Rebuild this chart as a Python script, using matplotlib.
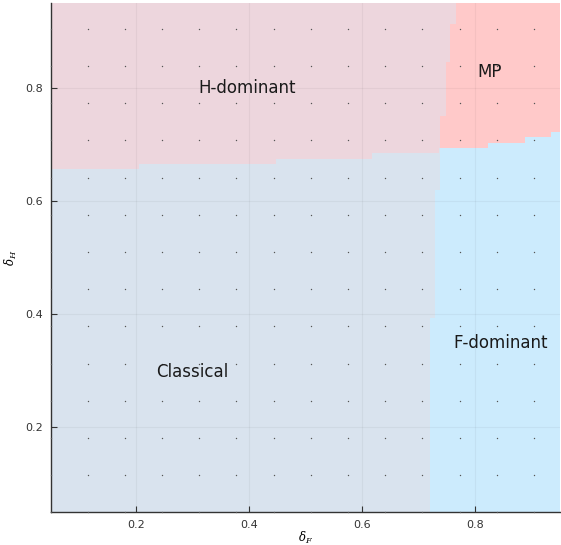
## phase diagram of the dominant regime over (delta_F, delta_H)
import numpy as np
import matplotlib
matplotlib.use('Agg')
import matplotlib.pyplot as plt
from matplotlib.colors import ListedColormap

plt.rcParams['mathtext.fontset'] = 'dejavuserif'

#define
x_min, x_max = 0.05, 0.95
y_min, y_max = 0.05, 0.95

# sampled parameter grid (shown as dots)
grid_vals = [0.05, 0.115, 0.181, 0.247, 0.312, 0.378, 0.444, 0.510,
             0.575, 0.641, 0.707, 0.773, 0.838, 0.904]

# upper/lower boundary: step starts along delta_F and level in delta_H
hb_x = [0.05, 0.2056, 0.4477, 0.6169, 0.7367, 0.8223, 0.8883, 0.935]
hb_y = [0.656, 0.665, 0.674, 0.684, 0.693, 0.702, 0.712, 0.722]

# left/right boundary: step starts along delta_H and level in delta_F
vb_y = [0.05, 0.3927, 0.6179, 0.7492, 0.8447, 0.9114]
vb_x = [0.7196, 0.7297, 0.7385, 0.7483, 0.7561, 0.7667]

regions = ['Classical', 'F-dominant', 'H-dominant', 'MP']
region_colors = ['#D9E3EE', '#CCEBFD', '#EDD6DD', '#FFC9C9']
label_pos = {'H-dominant': (0.397, 0.80), 'MP': (0.825, 0.828),
             'F-dominant': (0.845, 0.349), 'Classical': (0.300, 0.298)}

# region map on a fine raster
n = 1000
xs = np.linspace(x_min, x_max, n)
ys = np.linspace(y_min, y_max, n)
X, Y = np.meshgrid(xs, ys)
top = Y > np.array(hb_y)[np.searchsorted(hb_x, X, side='right') - 1]
right = X > np.array(vb_x)[np.searchsorted(vb_y, Y, side='right') - 1]
cat = top * 2 + right

fig = plt.figure(figsize=(5.61, 5.45), dpi=100)
ax = fig.add_axes([0.0909, 0.0606, 0.9091 - 0.002, 0.934])
ax.imshow(cat, origin='lower', extent=(x_min, x_max, y_min, y_max),
          cmap=ListedColormap(region_colors), vmin=-0.5, vmax=3.5,
          interpolation='nearest', aspect='auto', zorder=0)

gx, gy = np.meshgrid(grid_vals, grid_vals)
ax.scatter(gx.ravel(), gy.ravel(), s=1.0, color='#555555', linewidths=0,
           zorder=3, clip_on=False)

for name in regions:
    px, py = label_pos[name]
    ax.text(px, py, name, fontsize=12, ha='center', va='center', color='#1a1a1a', zorder=4)

ax.set_xlim(x_min, x_max)
ax.set_ylim(y_min, y_max)
ticks = [0.2, 0.4, 0.6, 0.8]
ax.set_xticks(ticks)
ax.set_yticks(ticks)
ax.set_xticklabels(['0.2', '0.4', '0.6', '0.8'])
ax.set_yticklabels(['0.2', '0.4', '0.6', '0.8'])
ax.tick_params(direction='in', length=4, width=0.8, labelsize=8, colors='#333333', pad=6)
ax.grid(True, color='black', alpha=0.045, linewidth=0.8, zorder=1)
ax.set_axisbelow(False)
for s in ['top', 'right']:
    ax.spines[s].set_visible(False)
for s in ['left', 'bottom']:
    ax.spines[s].set_color('#333333')
    ax.spines[s].set_linewidth(1.0)

ax.set_xlabel(r'$\delta_F$', fontsize=8.5, labelpad=0)
ax.set_ylabel(r'$\delta_H$', fontsize=8.5, labelpad=4)

plt.savefig('out.png', dpi=100)
